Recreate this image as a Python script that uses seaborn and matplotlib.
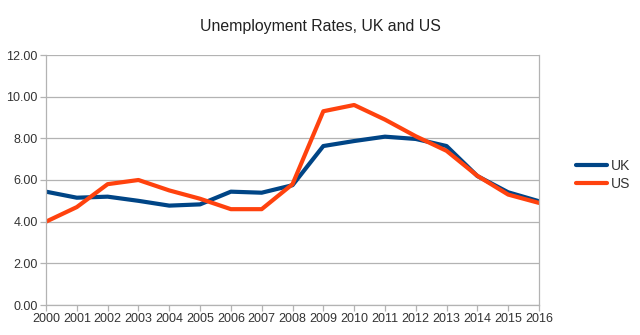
import matplotlib
matplotlib.use("Agg")
import matplotlib.pyplot as plt
import seaborn as sns
import pandas as pd

years = list(range(2000, 2017))
uk = [5.44, 5.15, 5.2, 5.0, 4.77, 4.83, 5.44, 5.39, 5.75, 7.63, 7.87, 8.08, 7.97, 7.63, 6.19, 5.41, 4.98]
us = [4.0, 4.7, 5.8, 6.0, 5.5, 5.1, 4.6, 4.6, 5.8, 9.3, 9.6, 8.9, 8.1, 7.4, 6.2, 5.3, 4.9]
series = ["UK", "US"]
colors = {"UK": "#004586", "US": "#ff420e"}
title = "Unemployment Rates, UK and US"

df = pd.DataFrame({
    "Year": years * 2,
    "Rate": uk + us,
    "Series": ["UK"] * len(years) + ["US"] * len(years),
})

sns.set_theme(style="white")
plt.rcParams["font.family"] = ["Liberation Sans", "DejaVu Sans"]

fig = plt.figure(figsize=(6.4, 3.35), dpi=100)
ax = fig.add_axes([46 / 640, 30 / 335, 493 / 640, 250 / 335])

sns.lineplot(data=df, x="Year", y="Rate", hue="Series", hue_order=series,
             palette=colors, linewidth=3.0, ax=ax, legend=True)

ax.set_xlim(2000, 2016)
ax.set_ylim(0, 12)
ax.set_xticks(years)
ax.set_xticklabels([str(y) for y in years])
ax.set_yticks([0, 2, 4, 6, 8, 10, 12])
ax.set_yticklabels([f"{v:.2f}" for v in [0, 2, 4, 6, 8, 10, 12]])
ax.set_xlabel("")
ax.set_ylabel("")
ax.yaxis.grid(True, color="#b3b3b3", linewidth=0.9)
ax.xaxis.grid(False)
for s in ["left", "right", "bottom"]:
    ax.spines[s].set_color("#b3b3b3")
    ax.spines[s].set_linewidth(0.9)
ax.spines["top"].set_visible(False)
ax.tick_params(axis="both", which="both", direction="out", length=4, width=0.9,
               color="#b3b3b3", labelsize=9, labelcolor="#333333", pad=2)
ax.tick_params(axis="x", bottom=True)
ax.tick_params(axis="y", left=True)

fig.text(0.5, 1 - 26 / 335, title, fontsize=11.4, color="#222222",
         ha="center", va="center")

leg = ax.legend(loc="center left", bbox_to_anchor=(1.05, 0.52), frameon=False,
                fontsize=10, handlelength=2.2, handletextpad=0.3, labelspacing=0.3)
for line in leg.get_lines():
    line.set_linewidth(3.0)
for t in leg.get_texts():
    t.set_color("#333333")

fig.savefig("out.png", dpi=100)
